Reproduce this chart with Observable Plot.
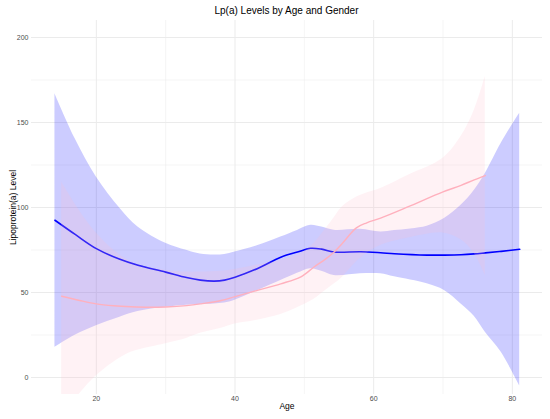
<!DOCTYPE html>
<html>
<head>
<meta charset="utf-8">
<script src="https://cdn.jsdelivr.net/npm/d3@7"></script>
<script src="https://cdn.jsdelivr.net/npm/@observablehq/plot@0.6"></script>
<style>
  html, body { margin: 0; padding: 0; background: #fff; }
  #wrap { position: relative; width: 550px; height: 419px; font-family: "Liberation Sans", Arial, Helvetica, sans-serif; }
  #title { position: absolute; left: 31px; width: 511px; top: 5px; text-align: center; font-size: 10px; line-height: 12px; color: #000; }
  #chart { position: absolute; left: 0; top: 20px; }
</style>
</head>
<body>
<div id="wrap">
  <div id="title">Lp(a) Levels by Age and Gender</div>
  <div id="chart"></div>
</div>
<script>
// ---- Data ----
const maleAge   = [14.03, 17, 20, 23.4, 26, 30, 33, 35, 37, 38.5, 40, 43.2, 46.6, 49, 50.9, 52.5, 54.3, 58.1, 61, 63, 67.7, 70.2, 72.6, 74.5, 76.1, 78.4, 81.06];
const maleFit   = [92.5, 84, 75.8, 69.5, 66, 62, 58.8, 57.3, 56.7, 57.3, 59, 64, 70.8, 73.8, 76, 75.5, 73.8, 74, 73.4, 72.8, 72, 72, 72.2, 72.7, 73.3, 74.2, 75.4];
const maleUpper = [166.9, 140, 118, 99.6, 88.6, 79, 74.8, 72.6, 72, 72.3, 73.8, 77.5, 82.6, 86.5, 89.5, 88.5, 86.6, 87.2, 85.6, 86.4, 89, 93.5, 101.3, 110, 120, 137.8, 155.5];
const maleLower = [17.7, 25, 30.5, 35.5, 38.8, 41.3, 42.5, 43, 43.3, 43.8, 45.5, 51, 57, 61.3, 64, 62.5, 60, 61, 61, 59.2, 55.1, 51.2, 43.3, 36, 26.6, 14.8, -4.9];

const femaleAge   = [15, 17.6, 20, 22.5, 25, 27.7, 30, 33, 35, 38, 40, 43, 46.6, 49.5, 51.4, 53, 54.3, 55.5, 57.5, 59, 61, 65, 70, 72.6, 74.5, 76.1];
const femaleFit   = [47.8, 45.3, 43.3, 42.2, 41.6, 41.3, 41.5, 42.3, 43.3, 45.3, 47.6, 51, 55.1, 59.2, 65, 69.5, 73.8, 79, 88, 91, 93.8, 100.5, 109.2, 113, 116.3, 118.8];
const femaleUpper = [115, 98, 85, 75, 68, 64.5, 63, 62, 62, 62.5, 63.5, 66, 69, 73, 79, 87, 94, 100.5, 106, 108.5, 111.2, 119, 129, 141.7, 157, 177];
const femaleLower = [-22, -9.5, 1, 9, 14.8, 17.8, 19.9, 23, 26, 29, 31.5, 33.5, 37, 42, 46, 51, 55, 59, 68, 73, 77.6, 82, 85, 81, 73, 60];

const xTicks = [20, 40, 60, 80];
const xMinor = [30, 50, 70];
const yTicks = [0, 50, 100, 150, 200];
const yMinor = [25, 75, 125, 175];

// ---- Build tables ----
const male = maleAge.map((a, i) => ({age: a, fit: maleFit[i], lo: maleLower[i], hi: maleUpper[i]}));
const female = femaleAge.map((a, i) => ({age: a, fit: femaleFit[i], lo: femaleLower[i], hi: femaleUpper[i]}));

const font = '"Liberation Sans", Arial, Helvetica, sans-serif';
const curve = "catmull-rom";

const plot = Plot.plot({
  width: 550,
  height: 399,
  marginTop: 0,
  marginBottom: 25,
  marginLeft: 31,
  marginRight: 8,
  style: {fontFamily: font, fontSize: "7px", background: "white", overflow: "visible"},
  x: {domain: [10.65, 84.35]},
  y: {domain: [-10, 210]},
  marks: [
    Plot.ruleY(yMinor, {stroke: "#EBEBEB", strokeWidth: 0.5}),
    Plot.ruleX(xMinor, {stroke: "#EBEBEB", strokeWidth: 0.5}),
    Plot.ruleY(yTicks, {stroke: "#EBEBEB", strokeWidth: 1}),
    Plot.ruleX(xTicks, {stroke: "#EBEBEB", strokeWidth: 1}),
    Plot.areaY(male, {x: "age", y1: "lo", y2: "hi", fill: "blue", fillOpacity: 0.2, curve, clip: true}),
    Plot.line(male, {x: "age", y: "fit", stroke: "blue", strokeWidth: 1.6, curve, clip: true}),
    Plot.areaY(female, {x: "age", y1: "lo", y2: "hi", fill: "pink", fillOpacity: 0.2, curve, clip: true}),
    Plot.line(female, {x: "age", y: "fit", stroke: "#FFB0BD", strokeWidth: 1.4, curve, clip: true}),
    Plot.axisX(xTicks, {tickSize: 0, tickPadding: 2, label: null, fill: "#4D4D4D", fontSize: 7}),
    Plot.axisY(yTicks, {tickSize: 0, tickPadding: 3, label: null, fill: "#4D4D4D", fontSize: 7}),
    Plot.text(["Age"], {frameAnchor: "bottom", dy: 14, fontSize: 8.5, fill: "black"}),
    Plot.text(["Lipoprotein(a) Level"], {frameAnchor: "left", textAnchor: "middle", dx: -18, rotate: -90, fontSize: 8.5, fill: "black"})
  ]
});
document.getElementById("chart").appendChild(plot);
</script>
</body>
</html>
